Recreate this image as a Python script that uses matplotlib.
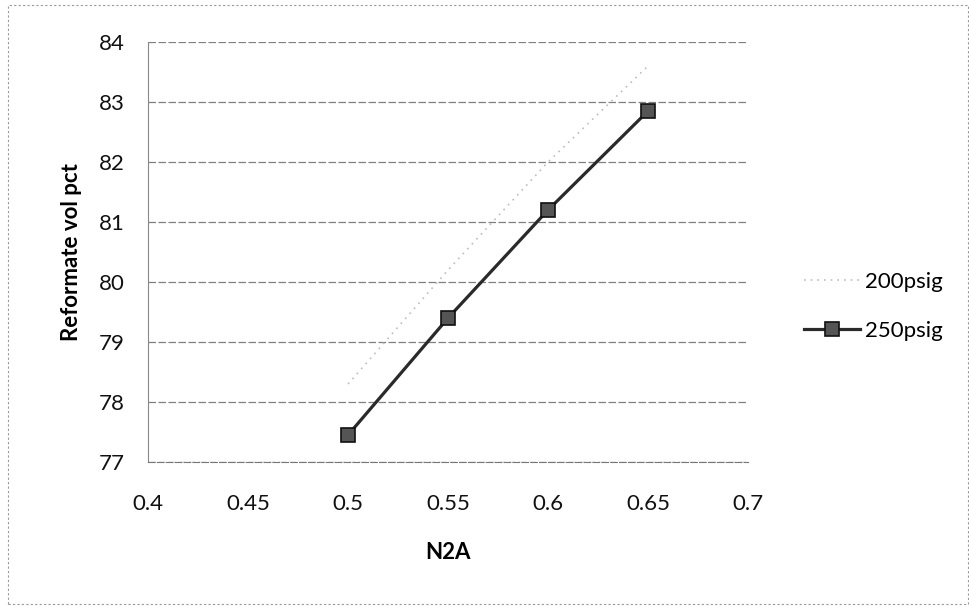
import matplotlib.pyplot as plt
from matplotlib.patches import Rectangle

plt.rcParams['font.family'] = ['Lato', 'DejaVu Sans']

n2a = [0.5, 0.55, 0.6, 0.65]
psig200 = [78.3, 80.2, 82.0, 83.6]
psig250 = [77.45, 79.4, 81.2, 82.85]
xticks = [0.4, 0.45, 0.5, 0.55, 0.6, 0.65, 0.7]
yticks = [77, 78, 79, 80, 81, 82, 83, 84]

fig = plt.figure(figsize=(9.7, 6.06), dpi=100)
ax = fig.add_axes([0.1526, 0.2376, 0.6186, 0.6931])

# faint dotted frame around the whole chart
fig.patches.append(Rectangle((0.008, 0.004), 0.99, 0.988, transform=fig.transFigure,
                             fill=False, ec='#999999', lw=0.8, ls=(0, (2, 2))))

ax.plot(n2a, psig200, color='#bdbdbd', lw=1.2, ls=(0, (1, 3)), label='200psig')
ax.plot(n2a, psig250, color='#2a2a2a', lw=2.3, marker='s', markersize=10,
        markerfacecolor='#555555', markeredgecolor='#111111', markeredgewidth=1.2,
        label='250psig')

ax.set_xlim(0.4, 0.7)
ax.set_ylim(77, 84)
ax.set_xticks(xticks)
ax.set_xticklabels([f'{t:g}' for t in xticks])
ax.set_yticks(yticks)
ax.tick_params(axis='both', length=0, labelsize=16, labelcolor='#111111')
ax.tick_params(axis='y', pad=17)
ax.tick_params(axis='x', pad=23)

ax.yaxis.grid(True, color='#808080', lw=0.9, ls=(0, (6, 2)))
ax.set_axisbelow(True)
for s in ['top', 'right']:
    ax.spines[s].set_visible(False)
ax.spines['left'].set_color('#888888')
ax.spines['left'].set_linestyle((0, (3, 1)))
ax.spines['bottom'].set_color('#777777')
ax.spines['bottom'].set_linestyle((0, (6, 2)))

ax.set_xlabel('N2A', fontsize=16, fontweight='bold', labelpad=20)
ax.set_ylabel('Reformate vol pct', fontsize=16, fontweight='bold', labelpad=12)

leg = ax.legend(loc='center left', bbox_to_anchor=(1.06, 0.371), frameon=False,
                fontsize=16, handlelength=2.5, handletextpad=0.25, labelspacing=1.3)

fig.savefig('out.png', dpi=100)
